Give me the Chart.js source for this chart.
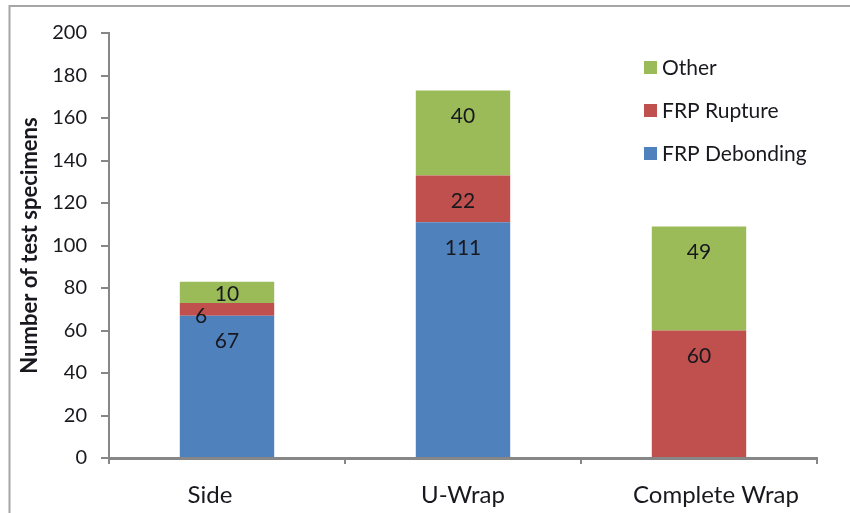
<!DOCTYPE html>
<html>
<head>
<meta charset="utf-8">
<script src="https://cdn.jsdelivr.net/npm/chart.js@4"></script>
<style>
  html, body { margin: 0; padding: 0; background: #fff; }
  canvas { display: block; }
</style>
</head>
<body>
<canvas id="c" width="850" height="513"></canvas>
<script>
// wrap types and failure-mode counts
const categories = ["Side", "U-Wrap", "Complete Wrap"];
const debonding = [67, 111, 0];
const rupture = [6, 22, 60];
const other = [10, 40, 49];
const yTicks = [0, 20, 40, 60, 80, 100, 120, 140, 160, 180, 200];

const FONT = "Lato, 'Open Sans', sans-serif";
const INK = "#18181f";
const AXIS = "#878787";

// outer frame line (top + left)
const frame = {
  id: "frame",
  beforeDraw(chart) {
    const ctx = chart.ctx;
    ctx.save();
    ctx.strokeStyle = "#a6a6a6";
    ctx.lineWidth = 2;
    ctx.beginPath();
    ctx.moveTo(9.5, chart.height + 5);
    ctx.lineTo(9.5, 6);
    ctx.lineTo(chart.width + 5, 6);
    ctx.stroke();
    ctx.restore();
  }
};

// category names under the axis, spread a little wider than the bars
const catLabels = {
  id: "catLabels",
  afterDraw(chart) {
    const ctx = chart.ctx, sx = chart.scales.x;
    const mid = (chart.chartArea.left + chart.chartArea.right) / 2;
    ctx.save();
    ctx.font = "24px " + FONT;
    ctx.fillStyle = INK;
    ctx.textAlign = "center";
    ctx.textBaseline = "middle";
    categories.forEach((c, i) => {
      const x = mid + (sx.getPixelForValue(i) - mid) * 1.072;
      ctx.fillText(c, x, sx.top + 37);
    });
    ctx.restore();
  }
};

// value labels inside the stacked segments
const valueLabels = {
  id: "valueLabels",
  afterDatasetsDraw(chart) {
    const ctx = chart.ctx;
    ctx.save();
    ctx.font = "21px " + FONT;
    ctx.fillStyle = INK;
    ctx.textAlign = "center";
    ctx.textBaseline = "middle";
    chart.data.datasets.forEach((ds, i) => {
      chart.getDatasetMeta(i).data.forEach((el, j) => {
        const v = ds.data[j];
        if (!v) return;
        const h = el.base - el.y;
        let x = el.x, y;
        if (h >= 52) y = el.y + 26;
        else if (h >= 15) y = el.y + h / 2 + 2;
        else { x = el.x - 26; y = el.base + 1; }
        ctx.fillText(String(v), x, y);
      });
    });
    ctx.restore();
  }
};

// legend box, listed top-down in stack order
const sideLegend = {
  id: "sideLegend",
  afterDraw(chart) {
    const ctx = chart.ctx;
    const sets = chart.data.datasets.slice().reverse();
    ctx.save();
    ctx.font = "21px " + FONT;
    ctx.textBaseline = "middle";
    ctx.textAlign = "left";
    sets.forEach((ds, k) => {
      const cy = 68 + k * 43;
      ctx.fillStyle = ds.backgroundColor;
      ctx.fillRect(644, cy - 7, 13, 13);
      ctx.fillStyle = INK;
      ctx.fillText(ds.label, 662, cy);
    });
    ctx.restore();
  }
};

new Chart(document.getElementById("c"), {
  type: "bar",
  data: {
    labels: categories,
    datasets: [
      { label: "FRP Debonding", data: debonding, backgroundColor: "#4f81bd" },
      { label: "FRP Rupture", data: rupture, backgroundColor: "#c0504d" },
      { label: "Other", data: other, backgroundColor: "#9bbb59" }
    ]
  },
  options: {
    responsive: false,
    animation: false,
    categoryPercentage: 0.8,
    barPercentage: 0.5,
    layout: { padding: { top: 33, right: 33, left: 0, bottom: 0 } },
    plugins: { legend: { display: false }, tooltip: { enabled: false } },
    scales: {
      x: {
        stacked: true,
        afterFit: s => { s.height = 55; },
        grid: { offset: true, drawOnChartArea: false, drawTicks: true, tickLength: 6, color: AXIS, lineWidth: 2 },
        border: { color: AXIS, width: 3 },
        ticks: { display: false }
      },
      y: {
        stacked: true,
        min: 0,
        max: 200,
        afterFit: s => { s.width = 109; },
        afterBuildTicks: s => { s.ticks = yTicks.map(v => ({ value: v })); },
        grid: { drawOnChartArea: false, drawTicks: true, tickLength: 8, color: AXIS, lineWidth: 2 },
        border: { color: AXIS, width: 2 },
        ticks: { color: INK, font: { family: FONT, size: 20 }, padding: 14 },
        title: {
          display: true,
          text: "Number of test specimens",
          color: INK,
          font: { family: FONT, size: 22, weight: "bold" },
          padding: { top: 17, bottom: 0 }
        }
      }
    }
  },
  plugins: [frame, catLabels, valueLabels, sideLegend]
});
</script>
</body>
</html>
